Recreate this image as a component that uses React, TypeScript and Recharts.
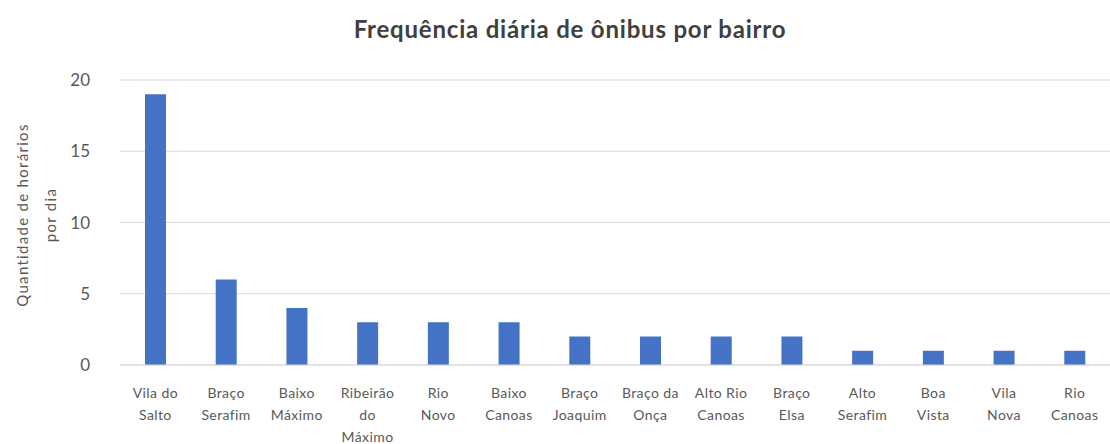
import React from 'react';
import { BarChart, Bar, XAxis, YAxis, CartesianGrid } from 'recharts';

// category labels, with the line breaks the original chart shows
const bairros = [
  'Vila do\nSalto', 'Braço\nSerafim', 'Baixo\nMáximo', 'Ribeirão\ndo\nMáximo', 'Rio\nNovo',
  'Baixo\nCanoas', 'Braço\nJoaquim', 'Braço da\nOnça', 'Alto Rio\nCanoas', 'Braço\nElsa',
  'Alto\nSerafim', 'Boa\nVista', 'Vila\nNova', 'Rio\nCanoas',
];
const horarios = [19, 6, 4, 3, 3, 3, 2, 2, 2, 2, 1, 1, 1, 1];
const yTicks = [0, 5, 10, 15, 20];

const data = bairros.map((name, i) => ({ name, value: horarios[i] }));

const FONT = 'Lato, "Open Sans", sans-serif';

const CatTick = (props: any) => {
  const { x, y, payload } = props;
  const lines = String(payload.value).split('\n');
  return (
    <g transform={`translate(${x},${y})`}>
      {lines.map((l, i) => (
        <text key={i} x={0} y={25 + i * 22} textAnchor="middle" fontSize={14} letterSpacing={0.4} fill="#595959" fontFamily={FONT}>
          {l}
        </text>
      ))}
    </g>
  );
};

const App: React.FC = () => {
  return (
    <div style={{ position: 'absolute', left: 0, top: 0, width: 1110, height: 444, background: '#fff', fontFamily: FONT }}>
      <div style={{ position: 'absolute', top: 14, left: 345, width: 450, textAlign: 'center', fontSize: 24, fontWeight: 700, color: '#404040', letterSpacing: 0.8, whiteSpace: 'nowrap' }}>
        Frequência diária de ônibus por bairro
      </div>
      <div
        style={{
          position: 'absolute', left: 36, top: 215, width: 260, textAlign: 'center',
          transform: 'translate(-50%, -50%) rotate(-90deg)', fontSize: 15, color: '#595959', lineHeight: '28px',
          letterSpacing: 1.3, whiteSpace: 'nowrap',
        }}
      >
        Quantidade de horários
        <br />
        por dia
      </div>
      <BarChart
        width={1110}
        height={444}
        data={data}
        margin={{ top: 80, right: 0, bottom: 0, left: 0 }}
      >
        <CartesianGrid vertical={false} stroke="#d9d9d9" />
        <XAxis
          dataKey="name"
          interval={0}
          tickLine={false}
          axisLine={{ stroke: '#d9d9d9' }}
          tick={<CatTick />}
          height={79}
        />
        <YAxis
          domain={[0, 20]}
          ticks={yTicks}
          width={120}
          axisLine={false}
          tickLine={false}
          tick={{ fill: '#595959', fontSize: 17, fontFamily: FONT }}
          tickMargin={24}
        />
        <Bar dataKey="value" fill="#4472c4" barSize={21} isAnimationActive={false} />
      </BarChart>
    </div>
  );
};

export default App;
